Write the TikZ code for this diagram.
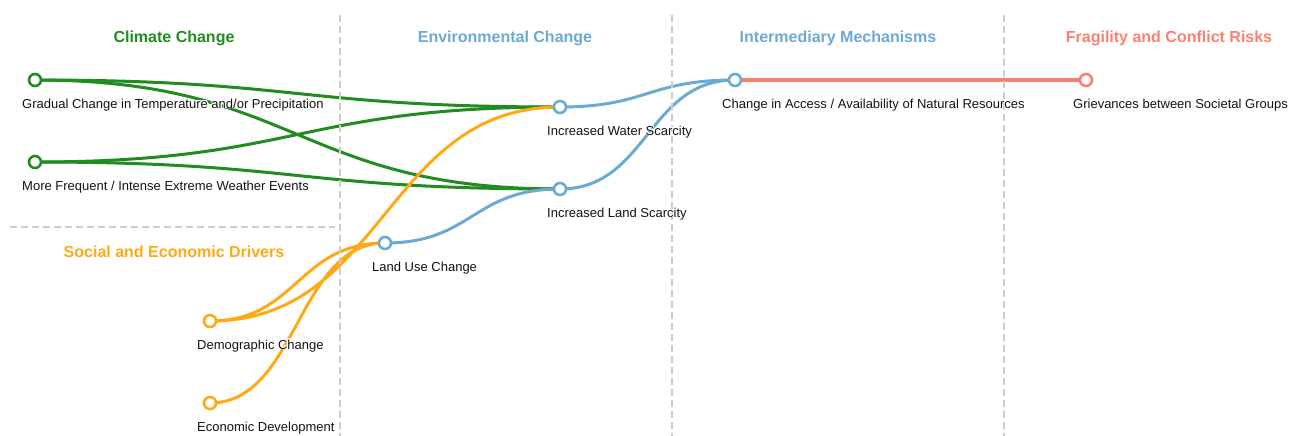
\documentclass[tikz,border=0pt]{standalone}
\usepackage{fontspec}
\setmainfont{Liberation Sans}
\usepackage[copies]{contour}
\contourlength{0.8pt}
\usetikzlibrary{calc,backgrounds}

\definecolor{climate}{RGB}{34,139,34}
\definecolor{envblue}{RGB}{107,170,210}
\definecolor{social}{RGB}{255,170,20}
\definecolor{risk}{RGB}{250,128,114}
\definecolor{divider}{RGB}{204,204,204}
\definecolor{labeltext}{RGB}{20,20,20}

\tikzset{
  x=1pt, y=-1pt,
  dot/.style={circle, draw=#1, fill=white, line width=2.6pt, minimum size=12pt, inner sep=0pt},
  link/.style={line width=3pt, draw=#1,
    to path={.. controls ($(\tikztostart)!0.5!(\tikztostart -| \tikztotarget)$)
                   and ($(\tikztotarget)!0.5!(\tikztotarget -| \tikztostart)$) .. (\tikztotarget)}},
  caption/.style={anchor=base west, inner sep=0pt, text=labeltext,
    font=\fontsize{13}{15}\selectfont},
  heading/.style={anchor=base, inner sep=0pt, text=#1,
    font=\fontsize{16}{18}\selectfont\bfseries},
  divline/.style={draw=divider, line width=1.3pt, dash pattern=on 7pt off 4pt}
}

\newcommand{\haloed}[1]{\contour{white}{#1}}

\begin{document}
\begin{tikzpicture}
\useasboundingbox (0,0) rectangle (1293,436);

% column dividers
\coordinate (v1t) at (340,15);  \coordinate (v1b) at (340,436);
\coordinate (v2t) at (672,15);  \coordinate (v2b) at (672,436);
\coordinate (v3t) at (1004,15); \coordinate (v3b) at (1004,436);
\coordinate (hl) at (10,227);   \coordinate (hr) at (335,227);
\draw[divline] (v1t) -- (v1b);
\draw[divline] (v2t) -- (v2b);
\draw[divline] (v3t) -- (v3b);
\draw[divline] (hl) -- (hr);

% column headings
\node[heading=climate] (hClim) at (174,43) {Climate Change};
\node[heading=envblue] (hEnv) at (505,43) {Environmental Change};
\node[heading=envblue] (hMech) at (838,43) {Intermediary Mechanisms};
\node[heading=risk] (hRisk) at (1169,43) {Fragility and Conflict Risks};
\node[heading=social] (hSoc) at (174,257) {Social and Economic Drivers};

% factor nodes
\node[dot=climate] (G) at (35,80) {};
\node[dot=climate] (M) at (35,162) {};
\node[dot=social]  (D) at (210,321) {};
\node[dot=social]  (E) at (210,403) {};
\node[dot=envblue] (U) at (385,243) {};
\node[dot=envblue] (W) at (560,107) {};
\node[dot=envblue] (L) at (560,189) {};
\node[dot=envblue] (A) at (735,80) {};
\node[dot=risk]    (R) at (1086,80) {};

% links between factors
\begin{scope}[on background layer]
  \draw[link=climate] (G.center) to (W.center);
  \draw[link=climate] (G.center) to (L.center);
  \draw[link=climate] (M.center) to (W.center);
  \draw[link=climate] (M.center) to (L.center);
  \draw[link=social]  (D.center) to (U.center);
  \draw[link=social]  (E.center) to (U.center);
  \draw[link=social]  (D.center) to (W.center);
  \draw[link=envblue] (U.center) to (L.center);
  \draw[link=envblue] (W.center) to (A.center);
  \draw[link=envblue] (L.center) to (A.center);
  \draw[link=risk]    (A.center) to (R.center);
\end{scope}

% factor captions
\node[caption] (Gt) at ($(G)+(-13,28)$) {\haloed{Gradual Change in Temperature and/or Precipitation}};
\node[caption] (Mt) at ($(M)+(-13,28)$) {\haloed{More Frequent / Intense Extreme Weather Events}};
\node[caption] (Dt) at ($(D)+(-13,28)$) {\haloed{Demographic Change}};
\node[caption] (Et) at ($(E)+(-13,28)$) {\haloed{Economic Development}};
\node[caption] (Ut) at ($(U)+(-13,28)$) {\haloed{Land Use Change}};
\node[caption] (Wt) at ($(W)+(-13,28)$) {\haloed{Increased Water Scarcity}};
\node[caption] (Lt) at ($(L)+(-13,28)$) {\haloed{Increased Land Scarcity}};
\node[caption] (At) at ($(A)+(-13,28)$) {\haloed{Change in Access / Availability of Natural Resources}};
\node[caption] (Rt) at ($(R)+(-13,28)$) {\haloed{Grievances between Societal Groups}};
\end{tikzpicture}
\end{document}
